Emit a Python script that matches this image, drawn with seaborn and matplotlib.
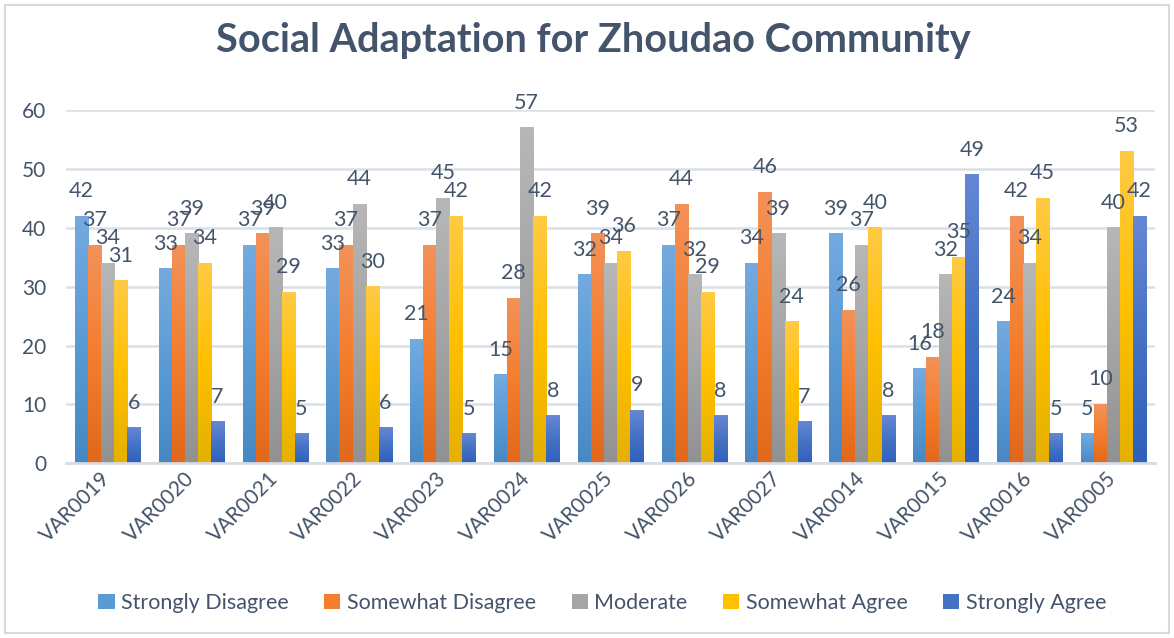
import numpy as np
import pandas as pd
import seaborn as sns
import matplotlib.pyplot as plt
from matplotlib.colors import LinearSegmentedColormap
from matplotlib.patches import Rectangle, Patch

items = ["VAR0019", "VAR0020", "VAR0021", "VAR0022", "VAR0023", "VAR0024", "VAR0025",
         "VAR0026", "VAR0027", "VAR0014", "VAR0015", "VAR0016", "VAR0005"]
levels = ["Strongly Disagree", "Somewhat Disagree", "Moderate", "Somewhat Agree", "Strongly Agree"]

strongly_disagree = [42, 33, 37, 33, 21, 15, 32, 37, 34, 39, 16, 24, 5]
somewhat_disagree = [37, 37, 39, 37, 37, 28, 39, 44, 46, 26, 18, 42, 10]
moderate = [34, 39, 40, 44, 45, 57, 34, 32, 39, 37, 32, 34, 40]
somewhat_agree = [31, 34, 29, 30, 42, 42, 36, 29, 24, 40, 35, 45, 53]
strongly_agree = [6, 7, 5, 6, 5, 8, 9, 8, 7, 8, 49, 5, 42]

# (top, middle, bottom) colours of the Excel-style gradient fill
gradients = [
    ("#74AAE0", "#5B9BD5", "#4787C4"),
    ("#F29259", "#F47E2E", "#E1681A"),
    ("#B7B7B7", "#A5A5A5", "#919191"),
    ("#FFCA45", "#FFC000", "#E5B000"),
    ("#6687D3", "#4472C4", "#3060BC"),
]

df = pd.DataFrame({
    "item": items * 5,
    "level": np.repeat(levels, len(items)),
    "count": strongly_disagree + somewhat_disagree + moderate + somewhat_agree + strongly_agree,
})

sns.set_theme(style="white")
plt.rcParams["font.family"] = ["Lato", "DejaVu Sans"]
text_color = "#44546A"

fig = plt.figure(figsize=(11.74, 6.38), dpi=100)
ax = fig.add_axes([0.056, 0.274, 0.928, 0.553])

sns.barplot(data=df, x="item", y="count", hue="level", order=items, hue_order=levels,
            palette=[g[1] for g in gradients], width=0.78, gap=0, saturation=1,
            linewidth=0, errorbar=None, legend=False, ax=ax)

# gradient fill on every bar
for container, (top, mid, bot) in zip(ax.containers, gradients):
    cmap = LinearSegmentedColormap.from_list("g", [bot, mid, top])
    for bar in container:
        x, y = bar.get_x(), bar.get_y()
        w, h = bar.get_width(), bar.get_height()
        ax.imshow(np.linspace(0, 1, 128).reshape(-1, 1), cmap=cmap, origin="lower",
                  extent=[x, x + w, y, y + h], aspect="auto", zorder=bar.get_zorder() + 0.1)
    ax.bar_label(container, padding=11, fontsize=15.5, color=text_color)

ax.set_xlim(-0.5, len(items) - 0.5)
ax.set_ylim(0, 60)
ax.set_yticks(range(0, 61, 10))
ax.yaxis.grid(True, color="#D9E0E8", linewidth=1.8)
ax.set_axisbelow(True)
for side in ["top", "right", "left"]:
    ax.spines[side].set_visible(False)
ax.spines["bottom"].set_color("#D6DCE5")
ax.spines["bottom"].set_linewidth(2)
ax.set_xlabel("")
ax.set_ylabel("")
ax.tick_params(axis="y", length=0, pad=14, labelsize=15, labelcolor=text_color)
ax.tick_params(axis="x", length=0, pad=9, labelsize=15, labelcolor=text_color)
plt.setp(ax.get_xticklabels(), rotation=45, ha="right", va="center", rotation_mode="anchor")

fig.suptitle("Social Adaptation for Zhoudao Community", x=0.505, y=0.965,
             fontsize=28.5, fontweight="bold", color=text_color)

handles = [Patch(facecolor=g[1], edgecolor="none") for g in gradients]
fig.legend(handles, levels, loc="center", bbox_to_anchor=(0.513, 0.055), ncol=5,
           frameon=False, fontsize=15.5, handlelength=0.75, handleheight=0.75,
           handletextpad=0.3, columnspacing=1.65, labelcolor=text_color)

fig.patches.append(Rectangle((0.004, 0.008), 0.992, 0.984, transform=fig.transFigure,
                             fill=False, edgecolor="#D9D9D9", linewidth=1.5))

fig.savefig("out.png", dpi=100)
